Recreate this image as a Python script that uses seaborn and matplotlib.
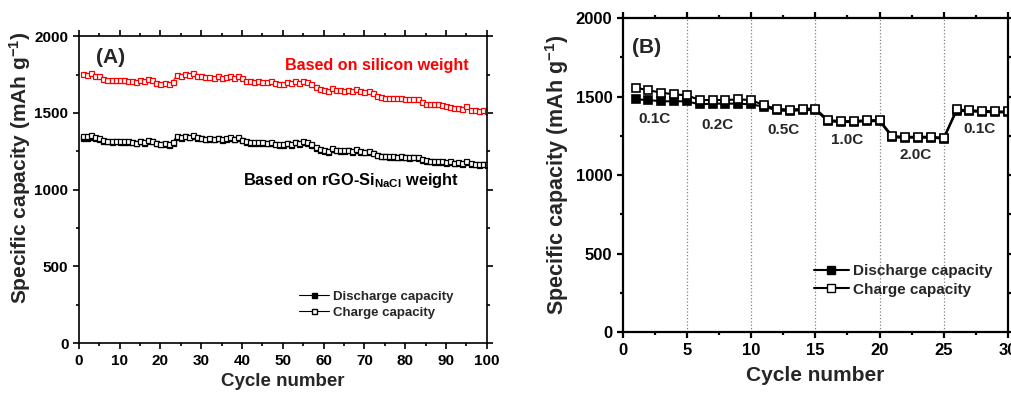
import numpy as np
import matplotlib
matplotlib.use('Agg')
import matplotlib.pyplot as plt
import seaborn as sns
from matplotlib.lines import Line2D

# panel A: 100 cycles at 0.1C-ish, values in mAh/g
cycles_a = list(range(1, 101))

si_charge = [1755, 1748, 1760, 1742, 1738, 1720, 1715, 1712, 1715, 1712,
             1713, 1710, 1708, 1700, 1712, 1705, 1718, 1712, 1698, 1690,
             1692, 1688, 1702, 1748, 1740, 1752, 1745, 1760, 1742, 1738,
             1732, 1735, 1730, 1738, 1728, 1735, 1740, 1730, 1742, 1725,
             1710, 1705, 1703, 1705, 1702, 1700, 1705, 1695, 1690, 1688,
             1700, 1692, 1708, 1698, 1710, 1702, 1690, 1668, 1655, 1648,
             1640, 1660, 1650, 1648, 1645, 1650, 1640, 1655, 1642, 1635,
             1640, 1628, 1612, 1605, 1600, 1598, 1596, 1595, 1598, 1593,
             1590, 1592, 1588, 1570, 1560, 1558, 1555, 1556, 1552, 1548,
             1540, 1530, 1532, 1528, 1542, 1522, 1518, 1515, 1516, 1512]

rgo_charge = [1350, 1348, 1355, 1340, 1338, 1322, 1318, 1316, 1318, 1316,
              1317, 1315, 1313, 1305, 1318, 1310, 1322, 1318, 1306, 1300,
              1302, 1298, 1308, 1348, 1340, 1352, 1345, 1356, 1340, 1338,
              1333, 1336, 1332, 1338, 1330, 1336, 1340, 1332, 1342, 1326,
              1314, 1310, 1308, 1310, 1308, 1305, 1310, 1300, 1296, 1295,
              1306, 1298, 1312, 1304, 1315, 1308, 1296, 1275, 1262, 1256,
              1250, 1268, 1260, 1258, 1255, 1260, 1250, 1262, 1252, 1246,
              1250, 1240, 1228, 1222, 1220, 1218, 1216, 1215, 1218, 1214,
              1212, 1214, 1210, 1198, 1190, 1188, 1186, 1187, 1184, 1180,
              1185, 1176, 1178, 1174, 1186, 1172, 1168, 1166, 1168, 1165]

rgo_discharge = [1336, 1338, 1345, 1334, 1333, 1318, 1314, 1312, 1314, 1312,
                 1313, 1311, 1309, 1301, 1314, 1306, 1318, 1314, 1302, 1296,
                 1298, 1294, 1304, 1344, 1336, 1348, 1341, 1352, 1336, 1334,
                 1329, 1332, 1328, 1334, 1326, 1332, 1336, 1328, 1338, 1322,
                 1310, 1306, 1304, 1306, 1304, 1301, 1306, 1296, 1292, 1291,
                 1302, 1294, 1308, 1300, 1311, 1304, 1292, 1271, 1258, 1252,
                 1246, 1264, 1256, 1254, 1251, 1256, 1246, 1258, 1248, 1242,
                 1246, 1236, 1224, 1218, 1216, 1214, 1212, 1211, 1214, 1210,
                 1208, 1210, 1206, 1194, 1186, 1184, 1182, 1183, 1180, 1176,
                 1181, 1172, 1174, 1170, 1182, 1168, 1164, 1162, 1164, 1161]

# panel B: rate test, 5 cycles per rate
cycles_b = list(range(1, 31))
rate_charge = [1557, 1540, 1525, 1514, 1508, 1478, 1478, 1478, 1482, 1478,
               1444, 1423, 1416, 1423, 1423, 1350, 1344, 1344, 1350, 1350,
               1248, 1244, 1244, 1244, 1238, 1418, 1412, 1410, 1405, 1405]
rate_discharge = [1482, 1478, 1470, 1470, 1470, 1450, 1455, 1455, 1455, 1450,
                  1436, 1412, 1408, 1414, 1414, 1342, 1338, 1338, 1343, 1343,
                  1240, 1238, 1238, 1238, 1232, 1410, 1405, 1403, 1399, 1399]
rate_labels = ['0.1C', '0.2C', '0.5C', '1.0C', '2.0C', '0.1C']
rate_label_x = [2.5, 7.4, 12.5, 17.5, 22.8, 27.8]
rate_label_y = [1355, 1316, 1286, 1222, 1131, 1291]
rate_edges = [5, 10, 15, 20, 25]

sns.set_style('ticks')
plt.rcParams['font.family'] = ['Liberation Sans', 'DejaVu Sans']
plt.rcParams['font.weight'] = 'bold'
plt.rcParams['axes.labelweight'] = 'bold'
plt.rcParams['mathtext.fontset'] = 'custom'
plt.rcParams['mathtext.rm'] = 'Liberation Sans:bold'
plt.rcParams['mathtext.it'] = 'Liberation Sans:bold'
plt.rcParams['mathtext.bf'] = 'Liberation Sans:bold'
plt.rcParams['mathtext.default'] = 'rm'

fig = plt.figure(figsize=(10.11, 3.93), dpi=100)
ax_a = fig.add_axes([0.078, 0.127, 0.4036, 0.781])
ax_b = fig.add_axes([0.616, 0.155, 0.381, 0.799])


def style_axes(ax, lw, size):
    for s in ax.spines.values():
        s.set_visible(True)
        s.set_linewidth(lw)
        s.set_color('black')
    ax.tick_params(which='both', direction='out', width=lw, colors='black',
                   labelsize=size, top=True, right=True)
    ax.tick_params(which='major', length=4)
    ax.tick_params(which='minor', length=2.5)
    for lab in ax.get_xticklabels() + ax.get_yticklabels():
        lab.set_fontweight('bold')


# ---- panel A ----
small = dict(markersize=3.6, linewidth=0.8, marker='s', markeredgewidth=0.9)
sns.lineplot(x=cycles_a, y=si_charge, color='red', markerfacecolor='white',
             markeredgecolor='red', ax=ax_a, **small)
sns.lineplot(x=cycles_a, y=rgo_discharge, color='black', markerfacecolor='black',
             markeredgecolor='black', ax=ax_a, **small)
sns.lineplot(x=cycles_a, y=rgo_charge, color='black', markerfacecolor='white',
             markeredgecolor='black', ax=ax_a, **small)

ax_a.set_xlim(0, 100)
ax_a.set_ylim(0, 2000)
ax_a.set_xticks(range(0, 101, 10))
ax_a.set_xticks(range(5, 100, 10), minor=True)
ax_a.set_yticks(range(0, 2001, 500))
ax_a.set_yticks(range(250, 2000, 500), minor=True)
style_axes(ax_a, 1.2, 11)
ax_a.set_xlabel('Cycle number', fontsize=13.5, labelpad=4)
ax_a.set_ylabel('Specific capacity (mAh g$^{-1}$)', fontsize=15)
ax_a.yaxis.set_label_coords(-0.113, 0.57)

ax_a.text(4.3, 1860, '(A)', fontsize=15, fontweight='bold', va='center')
ax_a.text(50.5, 1810, 'Based on silicon weight', color='red', fontsize=11.6,
          fontweight='bold', va='center')
ax_a.text(40.2, 1062, 'Based on rGO-Si$_{\\rm NaCl}$ weight', color='black',
          fontsize=11.8, fontweight='bold', va='center')

handles_a = [Line2D([], [], color='black', lw=0.8, marker='s', markersize=3.6,
                    markerfacecolor='black'),
             Line2D([], [], color='black', lw=0.8, marker='s', markersize=3.6,
                    markerfacecolor='white')]
ax_a.legend(handles_a, ['Discharge capacity', 'Charge capacity'], loc='center left',
            bbox_to_anchor=(0.51, 0.125), frameon=False,
            handlelength=2.3, handletextpad=0.3, labelspacing=0.3,
            prop={'weight': 'bold', 'size': 9.5})

# ---- panel B ----
for e in rate_edges:
    ax_b.axvline(e, color='gray', linestyle=':', linewidth=0.9, zorder=0)

big = dict(markersize=5.8, linewidth=1.5, marker='s', markeredgewidth=1.2)
sns.lineplot(x=cycles_b, y=rate_discharge, color='black', markerfacecolor='black',
             markeredgecolor='black', ax=ax_b, **big)
sns.lineplot(x=cycles_b, y=rate_charge, color='black', markerfacecolor='white',
             markeredgecolor='black', ax=ax_b, **big)

ax_b.set_xlim(0, 30)
ax_b.set_ylim(0, 2000)
ax_b.set_xticks(range(0, 31, 5))
ax_b.set_xticks(np.arange(2.5, 30, 5), minor=True)
ax_b.set_yticks(range(0, 2001, 500))
ax_b.set_yticks(range(250, 2000, 500), minor=True)
style_axes(ax_b, 1.6, 12)
ax_b.set_xlabel('Cycle number', fontsize=15, labelpad=6)
ax_b.set_ylabel('Specific capacity (mAh g$^{-1}$)', fontsize=15.5, labelpad=3)

for t, x, y in zip(rate_labels, rate_label_x, rate_label_y):
    ax_b.text(x, y, t, fontsize=11, fontweight='bold', ha='center', va='center')
ax_b.text(0.75, 1815, '(B)', fontsize=15, fontweight='bold', va='center')

handles_b = [Line2D([], [], color='black', lw=1.5, marker='s', markersize=5.8,
                    markerfacecolor='black'),
             Line2D([], [], color='black', lw=1.5, marker='s', markersize=5.8,
                    markerfacecolor='white')]
ax_b.legend(handles_b, ['Discharge capacity', 'Charge capacity'], loc='center left',
            bbox_to_anchor=(0.46, 0.165), frameon=False,
            handlelength=2.3, handletextpad=0.3, labelspacing=0.3,
            prop={'weight': 'bold', 'size': 11})

fig.savefig('out.png', dpi=100)
